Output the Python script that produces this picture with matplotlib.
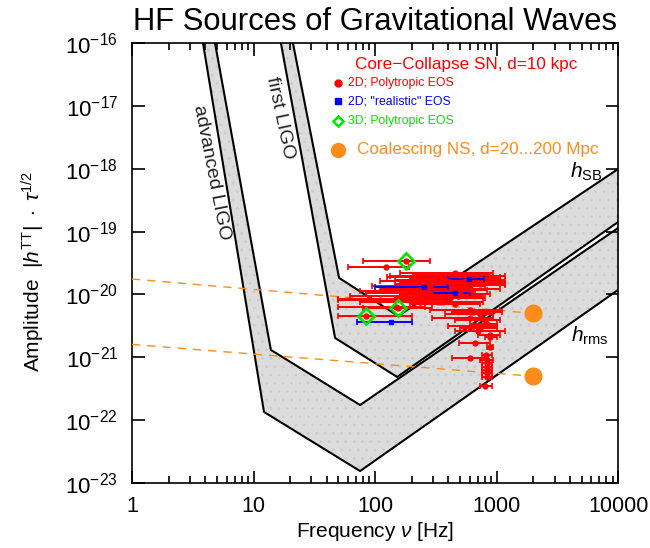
import numpy as np
import matplotlib.pyplot as plt
from matplotlib.ticker import FixedLocator, NullLocator, FuncFormatter, LogLocator

plt.rcParams['font.family'] = 'Liberation Sans'
plt.rcParams['mathtext.fontset'] = 'custom'
plt.rcParams['mathtext.rm'] = 'Liberation Sans'
plt.rcParams['mathtext.it'] = 'Liberation Sans:italic'
plt.rcParams['mathtext.bf'] = 'Liberation Sans:bold'
plt.rcParams['hatch.linewidth'] = 0.8

# detector bands: outer (lower) and inner (upper) edge, frequency [Hz] / amplitude
aligo_out_f = [3.84, 12.2, 75.3, 1e4]
aligo_out_h = [1e-16, 1.35e-22, 1.55e-23, 1.18e-20]
aligo_in_f = [4.82, 13.9, 75.3, 1e4]
aligo_in_h = [1e-16, 1.31e-21, 1.74e-22, 1.14e-19]
ligo_out_f = [16.8, 46.9, 152, 1e4]
ligo_out_h = [1e-16, 2.03e-21, 4.86e-22, 1.42e-19]
ligo_in_f = [21.1, 50.6, 155, 1e4]
ligo_in_h = [1e-16, 1.83e-20, 4.54e-21, 9.9e-19]

# core collapse, 2D polytropic EOS (red): peak frequency, amplitude, frequency range
red_f = [123, 501, 340, 414, 235, 284, 89, 235, 150, 641, 605, 641, 731, 885, 665,
         885, 820, 605, 835, 835, 835, 835, 835, 835, 804, 380, 600, 480, 260,
         455, 605, 343, 551, 731, 284, 605, 194, 501, 177, 414, 110, 455, 605,
         731, 804, 835, 706, 885]
red_h = [2.73e-20, 2.04e-20, 1.89e-20, 1.58e-20, 1.18e-20, 1.05e-20, 8.46e-21, 7.58e-21,
         6.31e-21, 5.26e-21, 4.22e-21, 3.15e-21, 2.92e-21, 2.1e-21, 1.69e-21,
         1.46e-21, 1.09e-21, 9.75e-22, 9.06e-22, 8.11e-22, 7.01e-22, 6.28e-22, 5.62e-22,
         4.86e-22, 3.49e-22, 1.7e-20, 1.4e-20, 9.5e-21, 1.25e-20,
         2.19e-20, 1.96e-20, 1.83e-20, 1.64e-20, 1.47e-20, 1.36e-20, 1.22e-20, 1.13e-20,
         1.02e-20, 9.45e-21, 8.78e-21, 8.15e-21, 7.05e-21, 5.65e-21, 4.89e-21, 3.92e-21,
         3.38e-21, 2.62e-21, 2.26e-21]
red_lo = [60, 206, 126, 161, 110, 84, 49.6, 75, 49.6, 430, 295, 399, 501, 804, 491,
          835, 760, 430, 731, 760, 760, 760, 760, 760, 731, 145, 375, 234, 112,
          161, 133, 194, 110, 146, 94.6, 121, 75.3, 161, 62.3, 146, 49.6, 194, 284,
          377, 455, 605, 455, 706]
red_hi = [191, 885, 1069, 1130, 835, 641, 391, 770, 258, 1110, 936, 1000, 1000, 1000, 885,
          936, 918, 835, 936, 918, 918, 918, 918, 918, 918, 1180, 1180, 770, 605,
          936, 1176, 1069, 972, 1176, 804, 1069, 665, 885, 605, 804, 414, 731, 1069,
          936, 1069, 1010, 1176, 1069]

# core collapse, 2D "realistic" EOS (blue)
blue_f = [594, 253, 455, 136]
blue_h = [1.76e-20, 1.31e-20, 1.05e-20, 3.65e-21]
blue_lo = [399, 100, 295, 71]
blue_hi = [789, 399, 605, 202]

# core collapse, 3D polytropic EOS (green)
green_f = [180, 155, 84]
green_h = [3.4e-20, 6.08e-21, 4.54e-21]
green_lo = [80, 80, 50]
green_hi = [284, 295, 202]

# coalescing neutron stars (orange), chirp track and end point
ns_f = [2000, 2000]
ns_h = [5e-21, 5e-22]
chirp_f = [1, 2000]
chirp_hi = [1.76e-20, 5e-21]
chirp_lo = [1.6e-21, 5e-22]

fig = plt.figure(figsize=(6.5, 5.48), dpi=100)
ax = fig.add_axes([0.203, 0.1186, 0.748, 0.803])
ax.set_xscale('log')
ax.set_yscale('log')
ax.set_xlim(1, 1e4)
ax.set_ylim(1e-23, 1e-16)

for of, oh, inf, inh in [(aligo_out_f, aligo_out_h, aligo_in_f, aligo_in_h),
                         (ligo_out_f, ligo_out_h, ligo_in_f, ligo_in_h)]:
    ax.fill(list(of) + inf[::-1], list(oh) + inh[::-1], facecolor='#dcdcdc',
            edgecolor='#cbcbcb', hatch='..', linewidth=0, zorder=1)
    ax.plot(of, oh, color='black', lw=1.5, zorder=2)
    ax.plot(inf, inh, color='black', lw=1.5, zorder=2)

orange = '#ff8c1a'
ax.plot(chirp_f, chirp_hi, color=orange, lw=1.0, ls=(0, (6, 5)), zorder=3)
ax.plot(chirp_f, chirp_lo, color=orange, lw=1.0, ls=(0, (6, 5)), zorder=3)
ax.plot(ns_f, ns_h, 'o', color=orange, ms=12, zorder=5)

def bars(f, h, lo, hi, col, mk, ms):
    f = np.array(f); lo = np.array(lo); hi = np.array(hi)
    ax.errorbar(f, h, xerr=[f - lo, hi - f], fmt=mk, color=col, ms=ms,
                elinewidth=1.4, capsize=2.5, capthick=1.2, zorder=4)

bars(red_f, red_h, red_lo, red_hi, 'red', 'o', 3.5)
bars(green_f, green_h, green_lo, green_hi, 'red', 'o', 3.5)
bars(blue_f, blue_h, blue_lo, blue_hi, 'blue', 's', 3.5)
ax.plot(green_f, green_h, 'D', mfc='none', mec='#00e600', mew=2, ms=8, zorder=6)

# legend text
ax.text(0.687, 0.952, 'Core\u2212Collapse SN, d=10 kpc', color='red', fontsize=12.3,
        ha='center', va='center', transform=ax.transAxes)
ax.plot([0.424], [0.908], 'o', color='red', ms=5, transform=ax.transAxes)
ax.text(0.444, 0.908, '2D; Polytropic EOS', color='red', fontsize=8.8, va='center',
        transform=ax.transAxes)
ax.plot([0.424], [0.867], 's', color='blue', ms=4.5, transform=ax.transAxes)
ax.text(0.444, 0.867, '2D; "realistic" EOS', color='blue', fontsize=8.8, va='center',
        transform=ax.transAxes)
ax.plot([0.424], [0.823], 'D', mfc='none', mec='#00e600', mew=1.8, ms=5,
        transform=ax.transAxes)
ax.text(0.444, 0.823, '3D; Polytropic EOS', color='#00e600', fontsize=8.8, va='center',
        transform=ax.transAxes)
ax.plot([0.424], [0.757], 'o', color=orange, ms=10, transform=ax.transAxes)
ax.text(0.463, 0.757, 'Coalescing NS, d=20...200 Mpc', color=orange, fontsize=12.3,
        va='center', transform=ax.transAxes)

# band labels
ax.text(0.163, 0.705, 'advanced LIGO', rotation=-79, fontsize=14, color='#222222',
        ha='center', va='center', transform=ax.transAxes)
ax.text(0.305, 0.83, 'first LIGO', rotation=-78, fontsize=14, color='#222222',
        ha='center', va='center', transform=ax.transAxes)
ax.text(0.901, 0.707, r'$h_{\rm SB}$', fontsize=15, va='center', transform=ax.transAxes)
ax.text(0.903, 0.334, r'$h_{\rm rms}$', fontsize=15, va='center', transform=ax.transAxes)

# axes styling
ax.xaxis.set_major_locator(FixedLocator([1, 10, 100, 1000, 10000]))
ax.xaxis.set_minor_locator(LogLocator(base=10, subs=np.arange(2, 10)))
ax.xaxis.set_major_formatter(FuncFormatter(lambda v, p: '%d' % round(v)))
ax.yaxis.set_major_locator(FixedLocator([10.0 ** e for e in range(-23, -15)]))
ax.yaxis.set_minor_locator(NullLocator())
ax.yaxis.set_major_formatter(FuncFormatter(lambda v, p: r'$10^{%d}$' % round(np.log10(v))))
ax.tick_params(which='both', direction='in', top=True, right=True, width=1.2)
ax.tick_params(which='major', length=9)
ax.tick_params(which='minor', length=5)
ax.tick_params(axis='x', labelsize=15.5, pad=9)
ax.tick_params(axis='y', labelsize=16, pad=10)
for s in ax.spines.values():
    s.set_linewidth(1.2)

fig.text(0.577, 0.945, 'HF Sources of Gravitational Waves', fontsize=22.3,
         ha='center', va='baseline')
fig.text(0.577, 0.031, r'Frequency $\nu$ [Hz]', fontsize=15, ha='center', va='center')
fig.text(0.051, 0.504, r'Amplitude  $|h^{\rm TT}|\ \cdot\ \tau^{1/2}$', fontsize=15,
         rotation=90, ha='center', va='center')

fig.savefig('out.png', dpi=100)
